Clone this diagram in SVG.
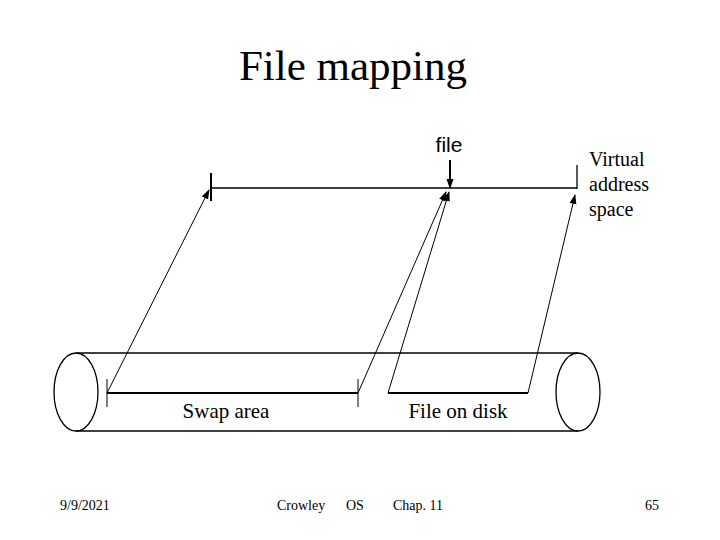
<svg xmlns="http://www.w3.org/2000/svg" width="720" height="540" viewBox="0 0 720 540">
<style>
.serif{font-family:"Liberation Serif","Times New Roman",serif;fill:#000}
.sans{font-family:"Liberation Sans",Arial,sans-serif;fill:#000}
.ln{stroke:#000;stroke-width:1.3;fill:none}
.thin{stroke:#000;stroke-width:1;fill:none}
.bold{stroke:#000;stroke-width:2;fill:none}
</style>
<defs>
<marker id="ah" markerWidth="10" markerHeight="8" refX="9" refY="4" orient="auto" markerUnits="userSpaceOnUse">
<path d="M0,0.5 L10,4 L0,7.5 Z" fill="#000"/>
</marker>
</defs>
<rect width="720" height="540" fill="#fff"/>
<text class="serif" x="353" y="80" font-size="43" text-anchor="middle">File mapping</text>

<g id="virtual-space">
<line class="ln" x1="211" y1="188" x2="577" y2="188"/>
<line class="bold" x1="211" y1="173" x2="211" y2="201"/>
<line class="ln" x1="577" y1="165" x2="577" y2="189"/>
<text class="serif" x="589" y="166" font-size="20">Virtual</text>
<text class="serif" x="589" y="191" font-size="20">address</text>
<text class="serif" x="589" y="216" font-size="20">space</text>
</g>

<g id="file-label">
<text class="sans" x="449" y="152" font-size="21" text-anchor="middle">file</text>
</g>

<g id="disk">
<ellipse class="ln" cx="76" cy="392" rx="22" ry="39"/>
<ellipse class="ln" cx="578" cy="392" rx="22" ry="39"/>
<line class="ln" x1="76" y1="353" x2="578" y2="353"/>
<line class="ln" x1="76" y1="431" x2="578" y2="431"/>
</g>

<g id="swap-area">
<line class="bold" x1="107" y1="393" x2="358" y2="393"/>
<line class="thin" x1="107" y1="379" x2="107" y2="407"/>
<line class="thin" x1="358" y1="379" x2="358" y2="407"/>
<text class="serif" x="226" y="418" font-size="21" text-anchor="middle">Swap area</text>
</g>

<g id="file-on-disk">
<line class="bold" x1="388" y1="393" x2="528" y2="393"/>
<text class="serif" x="458" y="418" font-size="21" text-anchor="middle">File on disk</text>
</g>

<g id="connectors">
<line class="bold" x1="450" y1="160" x2="450" y2="188" marker-end="url(#ah)"/>
<line class="thin" x1="107" y1="393" x2="209" y2="190" marker-end="url(#ah)"/>
<line class="thin" x1="358" y1="393" x2="446" y2="192" marker-end="url(#ah)"/>
<line class="thin" x1="388" y1="393" x2="449" y2="192" marker-end="url(#ah)"/>
<line class="thin" x1="528" y1="393" x2="575" y2="195" marker-end="url(#ah)"/>
</g>

<g id="footer">
<text class="serif" x="60" y="510" font-size="14">9/9/2021</text>
<text class="serif" x="277" y="510" font-size="14">Crowley</text>
<text class="serif" x="346" y="510" font-size="14">OS</text>
<text class="serif" x="393" y="510" font-size="14">Chap. 11</text>
<text class="serif" x="645" y="510" font-size="14">65</text>
</g>
</svg>
